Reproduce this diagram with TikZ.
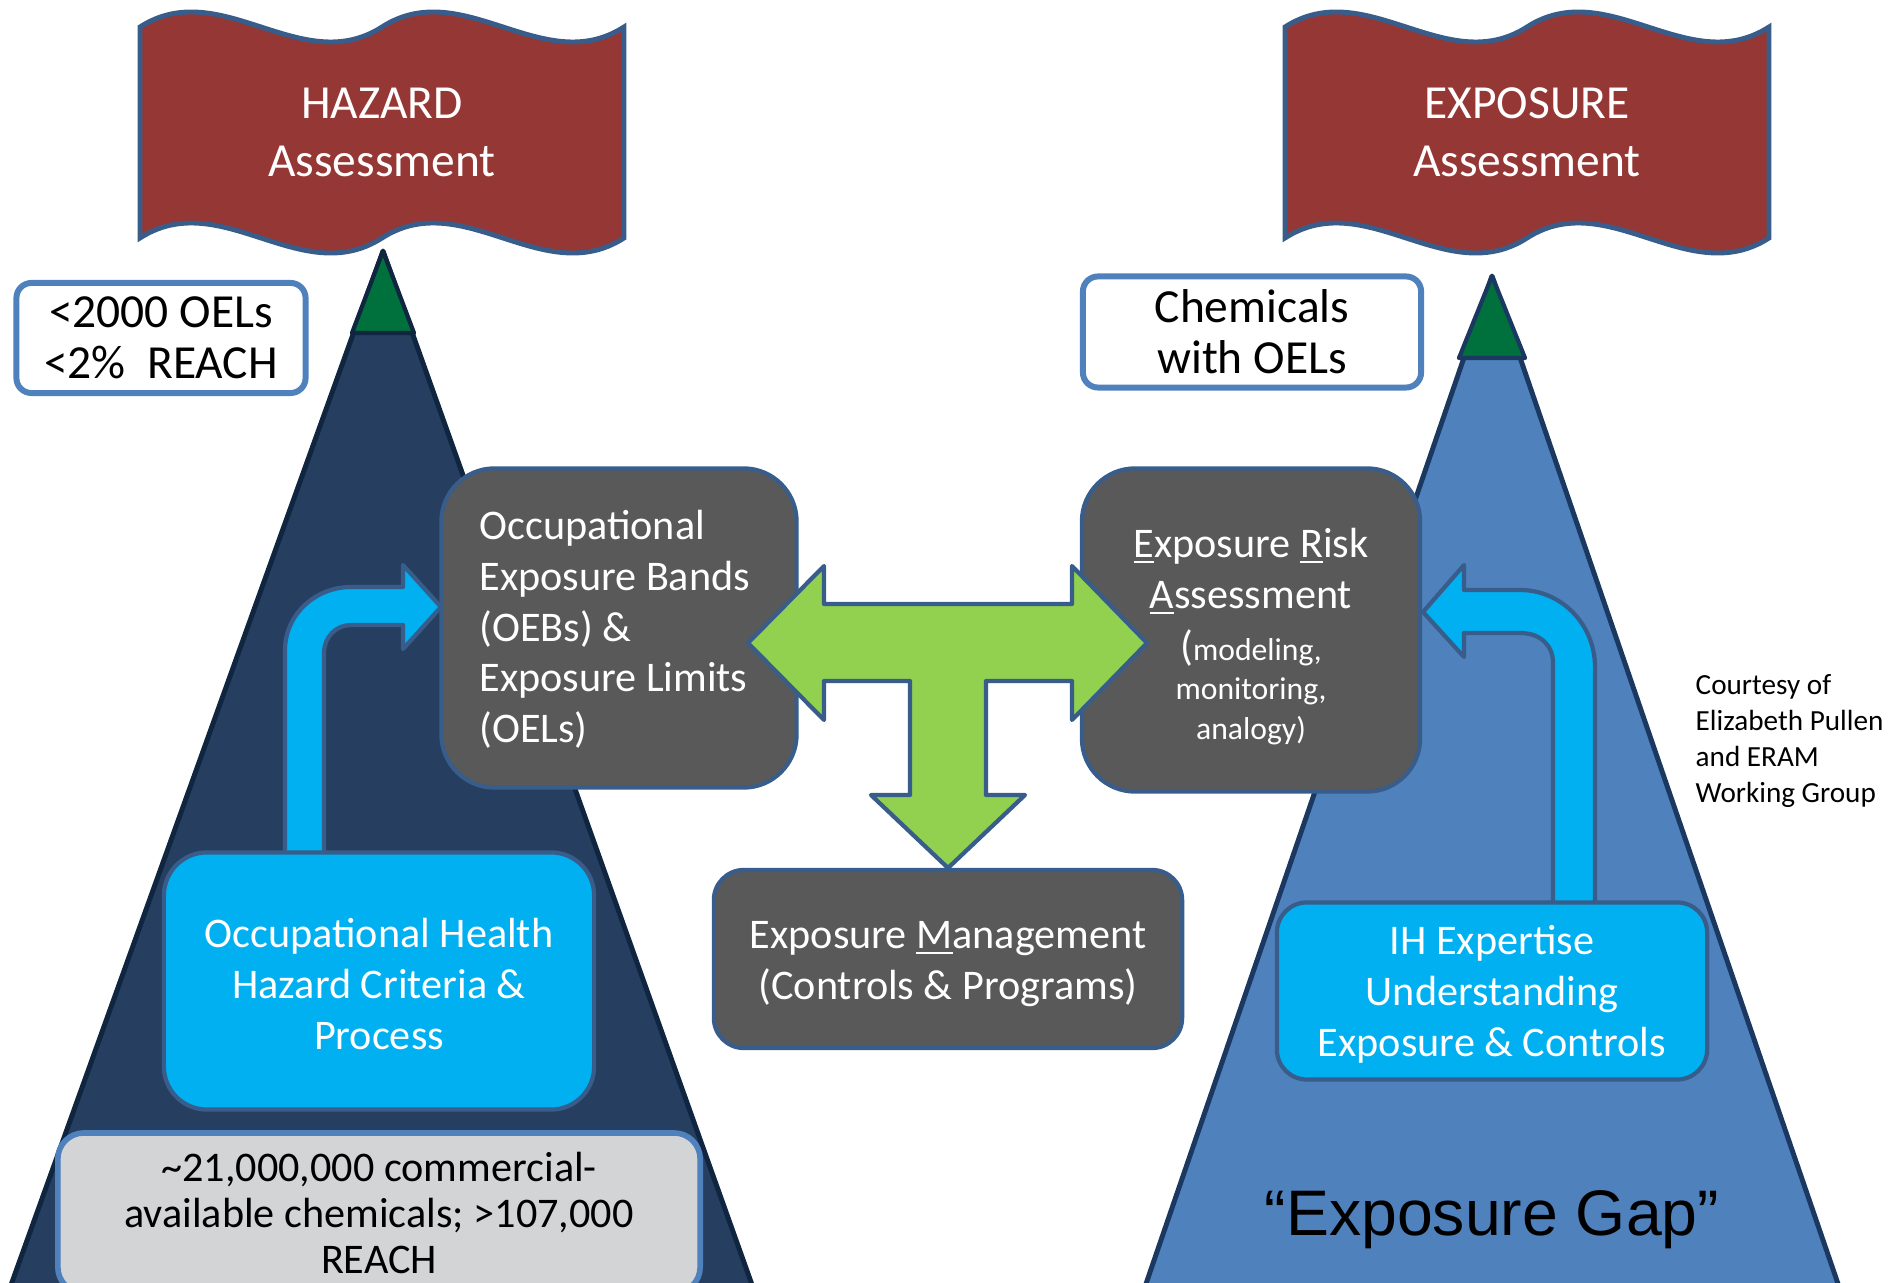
\documentclass[tikz,border=0pt]{standalone}
\usepackage{fontspec}
\setmainfont{Carlito}
\newfontfamily\arialfam{Liberation Sans}

\definecolor{flagred}{HTML}{953735}
\definecolor{edgeblue}{HTML}{385D8A}
\definecolor{lightedge}{HTML}{4F81BD}
\definecolor{navyfill}{HTML}{263F60}
\definecolor{navyedge}{HTML}{10253F}
\definecolor{steelfill}{HTML}{4F81BD}
\definecolor{steeledge}{HTML}{1A3860}
\definecolor{tipgreen}{HTML}{00703C}
\definecolor{arrowcyan}{HTML}{00B0F0}
\definecolor{boxgray}{HTML}{595959}
\definecolor{tgreen}{HTML}{92D050}
\definecolor{hatchgray}{HTML}{D3D4D6}

\newcommand\flagtxt{\fontsize{13.5pt}{16.5pt}\selectfont}
\newcommand\notetxt{\fontsize{13.5pt}{14.5pt}\selectfont}
\newcommand\boxtxt{\fontsize{12pt}{14.5pt}\selectfont}
\newcommand\methodtxt{\fontsize{9pt}{11pt}\selectfont}
\newcommand\counttxt{\fontsize{12pt}{13.1pt}\selectfont}
\newcommand\credittxt{\fontsize{8.3pt}{10.2pt}\selectfont}
\newcommand\gaptxt{\arialfam\fontsize{18.3pt}{22pt}\selectfont}

% banner outline, local coordinates (pixels, y down)
\newcommand\flagshape{(0,27) .. controls (81,-25) and (161,79) .. (242,27)
  .. controls (323,-25) and (403,79) .. (484,27) -- (484,238)
  .. controls (403,290) and (323,186) .. (242,238)
  .. controls (161,290) and (81,186) .. (0,238) -- cycle}

\tikzset{
  wave/.style={fill=flagred, draw=edgeblue, line width=1.4pt},
  flagtext/.style={text=white, font=\flagtxt, align=center},
  notebox/.style={draw=lightedge, fill=white, line width=1.7pt, rounded corners=0.15cm,
    font=\notetxt, align=center},
  graybox/.style={draw=edgeblue, fill=boxgray, line width=1.2pt, text=white, font=\boxtxt},
  cyanbox/.style={draw=edgeblue, fill=arrowcyan, line width=1.2pt, text=white, font=\boxtxt,
    align=center},
  fatarrow/.style={draw=edgeblue, line width=1.2pt, line join=round}
}

\begin{document}
\begin{tikzpicture}[x=0.01cm,y=-0.01cm]
	\useasboundingbox (0,0) rectangle (1900,1283);
	\clip (0,0) rectangle (1900,1283);

	% the two pyramids with green tips
	\draw[draw=navyedge, fill=navyfill, line width=1.4pt, line join=round] (383,251) -- (761,1310) -- (2,1310) -- cycle;
	\draw[draw=navyedge, fill=tipgreen, line width=1.2pt, line join=round] (383,251) -- (414,333) -- (352,333) -- cycle;
	\draw[draw=steeledge, fill=steelfill, line width=1.4pt, line join=round] (1492,276) -- (1847,1310) -- (1137,1310) -- cycle;
	\draw[draw=steeledge, fill=tipgreen, line width=1.2pt, line join=round] (1492,276) -- (1525,358) -- (1459,358) -- cycle;

	% banners
	\begin{scope}[shift={(140,0)}]
		\draw[wave] \flagshape;
		\node[flagtext] (hazard) at (242,132) {HAZARD\\Assessment};
	\end{scope}
	\begin{scope}[shift={(1285,0)}]
		\draw[wave] \flagshape;
		\node[flagtext] (exposure) at (242,132) {EXPOSURE\\Assessment};
	\end{scope}

	\node[notebox, minimum width=2.89cm, minimum height=1.10cm] (oellimit) at (161,338) {<2000 OELs\\<2\%\ \ REACH};
	\node[notebox, minimum width=3.38cm, minimum height=1.11cm] (chemoel) at (1252,332) {Chemicals\\with OELs};

	% bent arrows up the pyramids
	\draw[fatarrow, fill=arrowcyan] (285,875) -- (285,650) .. controls (285,615) and (315,587) .. (351,587)
		-- (403,587) -- (403,565) -- (441,607) -- (403,649) -- (403,625) -- (351,625)
		.. controls (336,625) and (324,637) .. (324,653) -- (324,875) -- cycle;
	\draw[fatarrow, fill=arrowcyan] (1595,920) -- (1595,667) .. controls (1595,625) and (1562,590) .. (1520,590)
		-- (1464,590) -- (1464,565) -- (1423,612) -- (1464,657) -- (1464,633) -- (1520,633)
		.. controls (1540,633) and (1553,645) .. (1553,663) -- (1553,920) -- cycle;

	\node[cyanbox, rounded corners=0.43cm, minimum width=4.30cm, minimum height=2.57cm, text height=38.7pt, text depth=0pt] (ohc) at (379,981) {Occupational Health\\Hazard Criteria \&\\Process};
	\node[cyanbox, rounded corners=0.3cm, minimum width=4.30cm, minimum height=1.77cm, text height=37pt, text depth=0pt] (ihx) at (1492,991) {IH Expertise\\Understanding\\Exposure \& Controls};
	\node[draw=lightedge, fill=hatchgray, line width=1.6pt, rounded corners=0.26cm, minimum width=6.42cm, minimum height=1.6cm,
		align=center, font=\counttxt] (chemcount) at (379,1213) {\textasciitilde 21,000,000 commercial-\\available chemicals; >107,000\\REACH};

	% centre boxes
	\node[graybox, rounded corners=0.53cm, text width=2.79cm, inner xsep=0.38cm, minimum height=3.19cm, align=flush left,
		text height=0pt, text depth=50.6pt] (oeb) at (619,628)
		{Occupational\\Exposure Bands\\(OEBs) \&\\Exposure Limits\\(OELs)};
	\node[graybox, rounded corners=0.53cm, minimum width=3.38cm, minimum height=3.23cm, align=center, text height=62pt, text depth=0pt] (era) at (1251,630)
		{\underline{E}xposure \underline{R}isk\\\underline{A}ssessment\\[0.3pt]({\methodtxt modeling,}\\[-3.3pt]{\methodtxt monitoring,}\\[-3.3pt]{\methodtxt analogy)}};
	\node[graybox, rounded corners=0.3cm, minimum width=4.68cm, minimum height=1.78cm, align=center, text height=22.8pt, text depth=0pt] (mgmt) at (948,959)
		{Exposure \underline{M}anagement\\(Controls \& Programs)};

	% T arrow between the three boxes
	\draw[fatarrow, fill=tgreen] (748,643) -- (824,566) -- (824,604) -- (1072,604) -- (1072,566) -- (1147,643)
		-- (1072,720) -- (1072,681) -- (986,681) -- (986,795) -- (1025,795) -- (948,868) -- (871,795)
		-- (910,795) -- (910,681) -- (824,681) -- (824,720) -- cycle;

	\node[anchor=west, align=left, inner sep=0, font=\credittxt] (courtesy) at (1695,741) {Courtesy of\\Elizabeth Pullen\\and ERAM\\Working Group};
	\node[font=\gaptxt] (gap) at (1492,1220) {“Exposure Gap”};
\end{tikzpicture}
\end{document}
